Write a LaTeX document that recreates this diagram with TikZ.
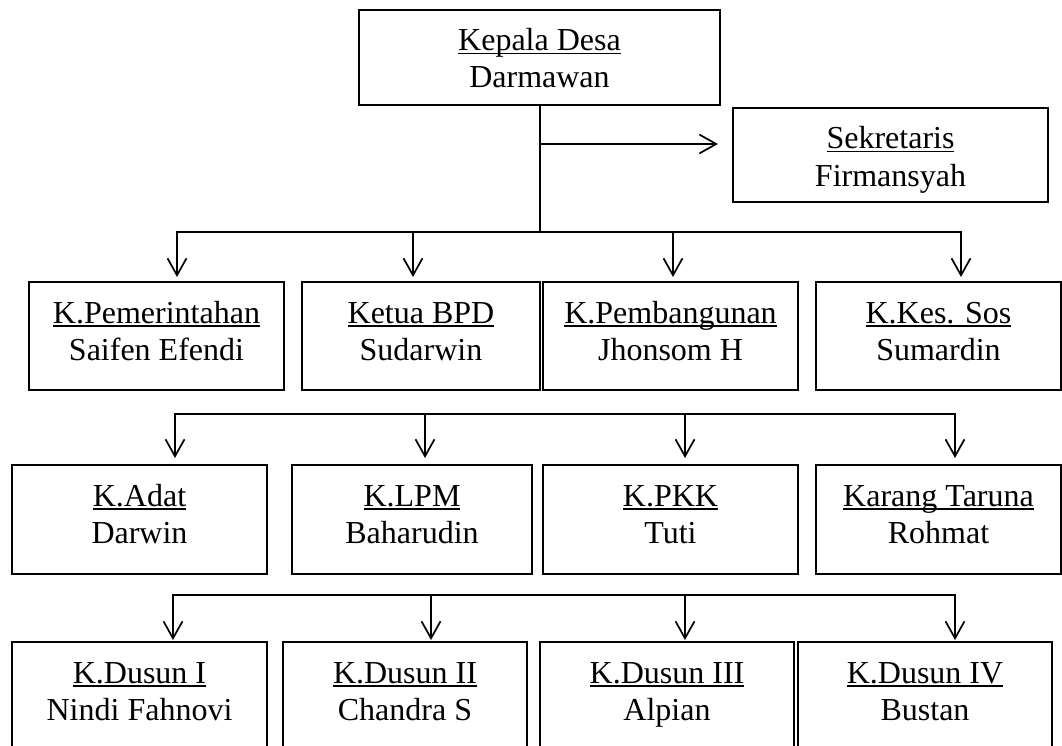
\documentclass[tikz,border=0pt]{standalone}
\usepackage{fontspec}
\setmainfont{Liberation Serif}
\usetikzlibrary{arrows.meta,calc}
\newcommand\myul[1]{\setbox0\hbox{#1}\rlap{\rule[-3.5pt]{\wd0}{1.6pt}}\box0}
\newcommand\orgbox[6]{%
  \node[box, minimum width=#3pt, minimum height=#4pt] (#1) at (#2) {};
  \node[txt] (#1t) at ($(#1.north)+(0,41)$) {\myul{#5}};
  \node[txt] (#1n) at ($(#1.north)+(0,78)$) {#6};
}
\tikzset{
  box/.style={draw, line width=2.2pt, rectangle, inner sep=0pt, outer sep=0pt},
  txt/.style={anchor=base, inner sep=0pt, font=\fontsize{32}{37}\selectfont},
  conn/.style={line width=1.7pt},
  tip/.tip={Straight Barb[length=17pt,width=19pt,line width=1.7pt]},
  arr/.style={conn, -tip},
  arrb/.style={conn, tip-tip}
}
\begin{document}
\begin{tikzpicture}[x=1pt,y=-1pt]
\useasboundingbox (0,0) rectangle (1062,746);
% boxes
\orgbox{kd}{539.5,57.5}{361}{95}{Kepala Desa}{Darmawan}
\orgbox{sek}{890.5,155}{315}{94}{Sekretaris}{Firmansyah}
\orgbox{p1}{156.5,336}{255}{108}{K.Pemerintahan}{Saifen Efendi}
\orgbox{p2}{421,336}{238}{108}{Ketua BPD}{Sudarwin}
\orgbox{p3}{670.5,336}{255}{108}{K.Pembangunan}{Jhonsom H}
\orgbox{p4}{938.5,336}{245}{108}{K.Kes. Sos}{Sumardin}
\orgbox{a1}{139.5,519.5}{255}{109}{K.Adat}{Darwin}
\orgbox{a2}{412,519.5}{240}{109}{K.LPM}{Baharudin}
\orgbox{a3}{670.5,519.5}{255}{109}{K.PKK}{Tuti}
\orgbox{a4}{938.5,519.5}{245}{109}{Karang Taruna}{Rohmat}
\orgbox{d1}{139.5,697}{255}{110}{K.Dusun I}{Nindi Fahnovi}
\orgbox{d2}{405,697}{244}{110}{K.Dusun II}{Chandra S}
\orgbox{d3}{667,697}{254}{110}{K.Dusun III}{Alpian}
\orgbox{d4}{925,697}{254}{110}{K.Dusun IV}{Bustan}
% junction coordinates
\coordinate (j0) at (540,144);
\coordinate (j1) at (540,232);
\coordinate (r1a) at (177,232);
\coordinate (r1b) at (413,232);
\coordinate (r1c) at (673,232);
\coordinate (r1d) at (961,232);
\coordinate (r2a) at (175,414);
\coordinate (r2b) at (425,414);
\coordinate (r2c) at (685,414);
\coordinate (r2d) at (955,414);
\coordinate (r3a) at (173,595);
\coordinate (r3b) at (431,595);
\coordinate (r3c) at (685,595);
\coordinate (r3d) at (955,595);
% top connectors
\draw[conn] (j1 |- kd.south) -- (j1);
\draw[arr, shorten >=15pt] (j0) -- (j0 -| sek.west);
% row 1
\draw[arrb, shorten <=5pt, shorten >=5pt] (r1a |- p1.north) -- (r1a) -- (r1d) -- (r1d |- p4.north);
\draw[arr, shorten >=5pt] (r1b) -- (r1b |- p2.north);
\draw[arr, shorten >=5pt] (r1c) -- (r1c |- p3.north);
% row 2
\draw[arrb, shorten <=7pt, shorten >=7pt] (r2a |- a1.north) -- (r2a) -- (r2d) -- (r2d |- a4.north);
\draw[arr, shorten >=7pt] (r2b) -- (r2b |- a2.north);
\draw[arr, shorten >=7pt] (r2c) -- (r2c |- a3.north);
% row 3
\draw[arrb, shorten <=2pt, shorten >=2pt] (r3a |- d1.north) -- (r3a) -- (r3d) -- (r3d |- d4.north);
\draw[arr, shorten >=2pt] (r3b) -- (r3b |- d2.north);
\draw[arr, shorten >=2pt] (r3c) -- (r3c |- d3.north);
\end{tikzpicture}
\end{document}
